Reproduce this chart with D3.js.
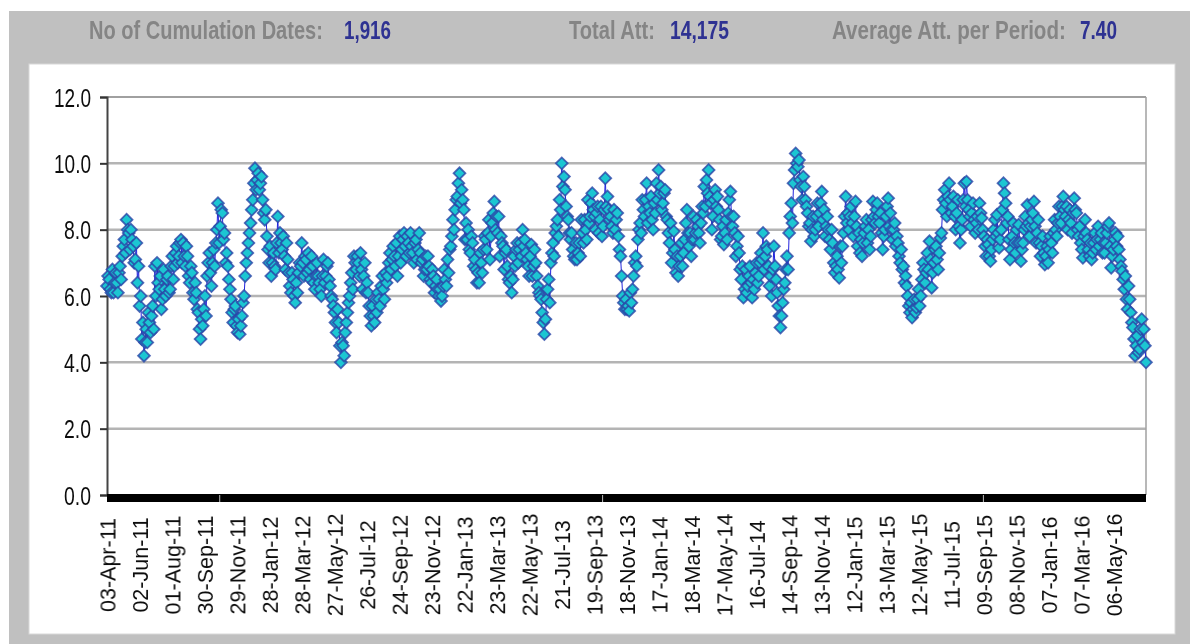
<!DOCTYPE html>
<html>
<head>
<meta charset="utf-8">
<script src="https://cdnjs.cloudflare.com/ajax/libs/d3/7.8.5/d3.min.js"></script>
<style>
    html, body { margin: 0; padding: 0; background: #fff; overflow: hidden; }
    svg { display: block; }
    text { font-family: "Liberation Sans", Arial, sans-serif; }
</style>
</head>
<body>
<svg id="chart" width="1190" height="644"></svg>
<script>
// header figures
var headerLabels = ['No of Cumulation Dates:', 'Total Att:', 'Average Att. per Period:'];
var headerValues = ['1,916', '14,175', '7.40'];

// tick labels, evenly spaced along the series
var dateLabels = ['03-Apr-11','02-Jun-11','01-Aug-11','30-Sep-11','29-Nov-11','28-Jan-12','28-Mar-12','27-May-12',
    '26-Jul-12','24-Sep-12','23-Nov-12','22-Jan-13','23-Mar-13','22-May-13','21-Jul-13','19-Sep-13','18-Nov-13',
    '17-Jan-14','18-Mar-14','17-May-14','16-Jul-14','14-Sep-14','13-Nov-14','12-Jan-15','13-Mar-15','12-May-15',
    '11-Jul-15','09-Sep-15','08-Nov-15','07-Jan-16','07-Mar-16','06-May-16'];
var yTicks = [0, 2, 4, 6, 8, 10, 12];

// values, split by year. "mid" arrays are the points sitting between them
var values2011 = [6.3,6.5,6.1,6.1,6.7,6.1,6.9,7.2,7.7,8.3,7.9,8.0,7.5,7.1,6.4,5.7,4.7,4.2,5.0,5.5,4.9,5.7,6.9,7.0,6.2,5.6,6.8,6.0,6.6,6.2,7.2,6.9,7.5,7.2,7.7,7.6,6.9,7.2,6.4,6.7,5.9,6.1,5.5,4.7,5.1,6.0,6.6,7.3,6.3,7.4,7.6,8.8,8.1,8.5,7.9,7.3,6.5,5.9,5.2,5.7,4.9,4.85,5.4,6.0,7.0,7.6,8.2,8.9,9.85];
var mid2011 = [6.6,6.2,6.8,6.4,6.4,6.7,6.5,7.5,7.3,8.0,7.4,7.7,7.0,7.6,6.9,6.0,5.2,4.6,4.6,5.2,5.4,5.0,6.0,6.4,6.6,5.9,6.2,6.5,6.1,6.9,6.5,7.3,7.0,7.6,7.0,7.2,7.5,6.6,6.9,6.1,6.4,5.6,5.0,5.3,5.6,5.4,7.0,6.7,7.0,6.9,8.0,7.6,8.6,7.7,7.0,6.9,6.2,5.5,5.6,5.1,5.3,5.1,5.8,6.6,7.3,7.9,8.6,9.4];
var values2012 = [9.2,9.7,9.4,8.9,8.3,7.8,7.0,6.6,7.3,6.8,8.4,7.9,7.4,7.2,7.6,6.7,6.1,6.5,5.8,6.1,7.0,7.6,6.6,7.1,7.3,6.5,6.9,6.2,7.0,6.4,6.0,7.1,6.6,7.0,6.3,5.9,5.5,4.9,5.2,4.0,4.5,4.9,5.5,6.0,6.7,7.2,6.8,7.0,7.3,6.2,7.0,6.4,5.7,5.1,5.4,5.9,6.1,5.7,6.6,5.9,6.4,7.0,6.8,7.5,6.9,6.6,7.8,7.4,7.9,7.2,7.6,7.9,7.3,7.6,7.1,7.9,7.0,6.6,7.2,7.2,6.5,6.8,6.1,6.5,6.0,5.85,6.3,6.5,7.1,7.4,7.8];
var mid2012 = [9.5,9.2,9.6,8.5,8.6,7.4,7.5,7.0,6.9,7.6,7.3,7.6,7.8,6.8,7.1,6.3,6.7,6.0,6.4,6.7,6.9,7.0,7.2,6.7,6.8,7.2,6.4,6.6,6.6,6.2,6.6,6.4,6.9,6.5,6.0,5.7,5.2,5.6,4.5,4.6,4.2,5.2,5.8,6.4,6.2,7.0,7.2,6.6,6.8,6.6,6.1,6.1,5.4,5.7,5.2,5.5,5.9,6.3,6.2,6.7,6.6,7.3,7.1,7.2,7.6,7.2,7.0,7.7,7.5,7.8,7.3,7.5,7.0,7.7,7.4,7.3,7.1,6.8,6.8,6.9,6.4,6.6,6.3,6.2,6.2,6.0,6.8,6.3,6.7,7.5];
var values2013 = [8.3,8.6,9.0,9.7,9.2,8.6,8.2,8.0,7.3,7.6,7.1,6.4,6.4,7.0,7.4,7.7,7.9,7.1,8.2,8.85,8.4,8.4,7.8,7.5,7.3,6.9,6.4,6.1,7.2,7.4,7.0,7.6,8.0,7.7,7.1,6.6,7.55,6.9,7.0,6.3,6.0,5.5,4.85,5.9,6.5,7.0,7.6,7.9,8.3,8.9,10.0,9.6,8.7,8.3,7.7,7.4,7.1,7.1,7.6,8.3,7.6,8.0,8.9,8.4,9.1,8.4,8.5,7.9,8.7,8.1,9.55,9.0,8.3,8.1,8.6,8.3,7.8,7.2,6.0,5.6,5.6,5.55,5.8,6.6,7.2,7.7,8.2,8.9,8.4,9.4,8.7,9.0];
var mid2013 = [8.0,8.9,9.4,8.8,8.9,7.7,7.7,7.4,7.8,6.9,6.8,6.7,7.3,6.7,7.8,7.4,8.3,7.8,8.5,8.0,7.9,7.2,7.6,6.8,7.4,6.5,6.6,6.5,6.9,7.6,7.4,7.2,7.5,7.3,6.9,7.2,6.6,7.4,6.6,6.1,5.9,5.2,5.3,6.2,5.8,7.3,7.2,8.1,7.8,8.6,9.3,9.2,8.4,7.9,7.9,7.2,7.6,7.3,7.2,7.9,8.3,7.7,8.2,8.8,8.6,8.0,8.7,8.3,7.8,8.6,8.7,8.6,8.4,7.9,8.0,8.5,7.4,6.6,5.8,5.9,5.7,6.1,6.2,7.0,6.9,8.0,7.9,8.6,8.9,8.2,8.5];
var values2014 = [8.3,8.8,9.4,9.8,9.3,8.8,9.2,8.3,7.6,7.0,7.95,6.7,6.6,7.2,6.9,7.7,8.6,7.5,7.2,8.4,7.9,8.1,7.6,8.7,9.3,9.5,9.8,8.8,8.4,9.2,9.0,8.3,7.8,7.55,8.3,8.5,9.15,8.1,7.9,7.5,7.3,6.5,5.95,6.8,6.3,6.9,5.95,6.2,7.0,6.6,7.3,7.9,7.2,7.4,6.3,6.0,7.5,6.5,5.7,5.05,5.8,6.4,7.2,7.9,8.8,9.4,10.3,9.9,9.5,8.9,9.3,8.7,8.1,7.65,8.4,8.0,8.8,8.5,9.15,8.6,8.1,8.0,7.4,7.6,6.7,7.2,6.55,7.0,7.9,9.0,8.5];
var mid2014 = [8.0,8.5,8.9,9.1,8.6,9.1,8.4,7.9,8.2,7.3,7.4,7.2,6.9,7.6,7.3,8.2,7.9,7.9,7.7,7.7,8.3,7.9,8.2,8.5,8.7,9.1,9.0,8.0,8.9,8.7,8.6,7.7,8.1,7.9,7.7,8.9,8.4,8.4,7.2,7.8,6.8,6.9,6.2,6.1,6.6,6.4,6.5,6.7,6.4,7.0,7.1,6.8,7.5,6.9,6.6,6.8,6.9,6.1,5.4,5.4,6.2,6.8,6.8,8.4,8.2,9.8,10.0,10.1,9.3,9.6,8.9,8.5,8.2,8.0,7.8,8.4,8.1,8.8,8.3,7.8,8.4,7.7,8.0,7.0,6.9,6.8,7.5,7.5,8.4,8.2];
var values2015 = [8.0,8.7,7.8,8.85,7.5,7.3,7.2,7.9,8.3,8.0,7.8,8.85,8.2,8.8,8.2,7.9,7.8,8.4,8.95,8.5,7.7,8.2,7.8,7.2,7.4,6.9,6.6,6.0,5.5,5.35,5.9,5.65,6.2,6.0,7.0,6.4,7.3,7.65,6.25,7.0,7.5,6.8,7.75,8.6,9.2,8.4,9.4,8.5,9.0,8.0,8.9,7.6,8.3,9.4,9.45,8.6,8.1,8.8,7.9,8.4,8.8,8.35,7.8,7.2,7.55,7.05,7.7,8.3,8.45,7.45,8.0,9.4,8.8,8.4,7.1,7.8,7.6,8.0,8.15,7.05,7.6,8.4,8.75,7.8,8.3,8.85,7.6,8.3,7.2,7.8,6.95,7.5];
var mid2015 = [8.4,8.2,8.4,8.1,7.9,7.7,7.6,8.1,7.6,7.4,8.3,8.4,8.6,8.4,8.5,7.4,8.0,8.7,8.1,8.0,8.0,7.5,7.6,7.0,6.8,6.4,6.3,5.7,5.8,5.6,5.5,5.9,5.7,6.5,6.8,6.7,6.8,7.1,6.7,7.4,7.1,7.3,7.9,8.9,8.8,9.0,8.9,8.7,8.4,8.5,8.1,8.0,8.9,8.7,8.9,8.4,8.5,8.3,8.2,8.0,8.5,8.0,7.5,7.7,7.2,7.4,8.0,7.8,7.9,7.7,8.6,9.1,8.2,7.7,7.4,8.2,7.3,7.6,7.6,7.4,8.0,8.1,8.2,8.1,8.5,8.1,7.9,7.6,7.5,7.3,7.2];
var values2016 = [7.0,7.8,7.3,8.3,7.8,8.7,8.2,9.0,8.4,8.0,8.6,7.9,8.95,8.5,7.8,7.6,7.15,8.3,7.7,7.2,7.1,7.6,7.4,8.1,7.7,7.3,7.3,7.9,8.2,6.85,7.4,7.9,7.8,7.1,6.75,6.2,5.9,6.3,5.5,5.05,4.2,4.8,4.4,5.3,5.0,4.0];
var mid2016 = [7.4,7.6,7.9,8.0,8.2,8.4,8.7,8.6,8.7,8.3,8.2,8.5,8.6,8.0,8.1,7.4,7.8,7.9,7.4,7.6,7.3,7.9,7.7,7.5,7.9,7.6,7.6,8.1,7.5,7.2,7.7,7.5,7.4,6.9,6.5,6.6,5.6,5.9,5.2,4.7,4.5,4.3,5.0,4.6,4.5];

// weaves one year's points with its in-between points
function weave(main, mid) {
    var out = [];
    main.forEach(function(v, i) {
        out.push(v);
        if (i < mid.length && i < main.length - 1) out.push(mid[i]);
    });
    return out;
}
var attValues = weave(values2011, mid2011).concat(weave(values2012, mid2012), weave(values2013, mid2013),
    weave(values2014, mid2014), weave(values2015, mid2015), weave(values2016, mid2016));

var svg = d3.select('#chart');
var margin = { left: 107, right: 1146, top: 97, bottom: 495 };
var lastIndex = attValues.length - 1;
var tickStep = lastIndex / dateLabels.length;

// soft blur, the source picture is a scaled screenshot
var blur = svg.append('defs').append('filter').attr('id', 'soft');
blur.append('feGaussianBlur').attr('stdDeviation', 0.55);

// squeezes a text to a given width (source text is stretched narrow)
function squeeze(sel, x, y, width, anchorRight) {
    var natural = sel.node().getComputedTextLength();
    var k = width / natural;
    sel.attr('x', 0).attr('y', 0)
        .attr('text-anchor', anchorRight ? 'end' : 'start')
        .attr('transform', `translate(${x},${y}) scale(${k},1)`);
}

// panels
svg.append('rect').attr('x', 9).attr('y', 11).attr('width', 1181).attr('height', 633).attr('fill', '#c0c0c0');
svg.append('rect').attr('x', 29).attr('y', 64).attr('width', 1146).attr('height', 570)
    .attr('fill', '#fff').attr('stroke', '#d8d8d8');

// header row
var head = svg.append('g').attr('filter', 'url(#soft)')
    .attr('font-weight', 'bold').attr('font-size', 25);
var headLabelX = [[89, 234], [569, 86], [832, 234]];
var headValueX = [[344, 47], [670, 59], [1080, 37]];
headerLabels.forEach(function(t, i) {
    head.append('text').text(t).attr('fill', '#858585')
        .call(squeeze, headLabelX[i][0], 39, headLabelX[i][1]);
    head.append('text').text(headerValues[i]).attr('fill', '#2e3192')
        .call(squeeze, headValueX[i][0], 39, headValueX[i][1]);
});

// scales
var xScale = d3.scaleLinear().domain([0, lastIndex]).range([margin.left, margin.right]);
var yScale = d3.scaleLinear().domain([0, 12]).range([margin.bottom, margin.top]);

// gridlines
svg.append('g').selectAll('line').data(yTicks.filter(d => d > 0)).enter().append('line')
    .attr('x1', margin.left).attr('x2', margin.right)
    .attr('y1', d => yScale(d)).attr('y2', d => yScale(d))
    .attr('stroke', d => d == 12 ? '#808080' : '#b4b4b4')
    .attr('stroke-width', d => d == 12 ? 1.5 : 2.5);
svg.append('line').attr('x1', margin.right).attr('x2', margin.right)
    .attr('y1', margin.top).attr('y2', margin.bottom)
    .attr('stroke', '#a0a0a0').attr('stroke-width', 1.5);

// y axis
var yAxis = svg.append('g').attr('transform', `translate(${margin.left},0)`)
    .call(d3.axisLeft(yScale).tickValues(yTicks).tickFormat(d3.format('.1f')).tickSize(7));
yAxis.select('.domain').attr('stroke', '#444').attr('stroke-width', 2);
yAxis.selectAll('.tick line').attr('stroke', '#333').attr('stroke-width', 2);
yAxis.selectAll('.tick text').attr('font-size', 26).attr('fill', '#111').attr('filter', 'url(#soft)')
    .attr('font-family', '"Liberation Sans", Arial, sans-serif')
    .each(function(d) {
        d3.select(this).attr('dy', null).call(squeeze, -16, 9, d >= 10 ? 37 : 27, true);
    });

// black band under the plot
svg.append('rect').attr('x', margin.left).attr('y', margin.bottom - 1)
    .attr('width', margin.right - margin.left).attr('height', 8).attr('fill', '#000');

// x axis labels
var xAxis = svg.append('g').attr('transform', `translate(0,${margin.bottom + 7})`)
    .call(d3.axisBottom(xScale)
        .tickValues(dateLabels.map((d, i) => i * tickStep))
        .tickFormat((d, i) => dateLabels[i])
        .tickSize(0));
xAxis.select('.domain').remove();
xAxis.selectAll('.tick text')
    .attr('font-size', 21.5).attr('fill', '#111').attr('filter', 'url(#soft)')
    .attr('font-family', '"Liberation Sans", Arial, sans-serif')
    .attr('text-anchor', 'middle').attr('dy', '0.36em')
    .attr('transform', 'translate(0,63) rotate(-90)').attr('y', 0);

// small pale notches on the black band
var notchIndex = [0.1085, 0.477, 0.8435];
svg.append('g').selectAll('line').data(notchIndex).enter().append('line')
    .attr('x1', d => xScale(d * lastIndex)).attr('x2', d => xScale(d * lastIndex))
    .attr('y1', margin.bottom).attr('y2', margin.bottom + 7)
    .attr('stroke', '#bbb').attr('stroke-width', 1);

// line and diamonds
var plot = svg.append('g').attr('filter', 'url(#soft)');
var line = d3.line().x((d, i) => xScale(i)).y(d => yScale(d));
plot.append('path').datum(attValues).attr('d', line)
    .attr('fill', 'none').attr('stroke', '#2222dd').attr('stroke-width', 1);

var diamond = d3.symbol().type(d3.symbolSquare).size(70);
plot.selectAll('.pt').data(attValues).enter().append('path')
    .attr('class', 'pt')
    .attr('d', diamond)
    .attr('transform', (d, i) => `translate(${xScale(i)},${yScale(d)}) rotate(45)`)
    .attr('fill', '#1cc6d2')
    .attr('stroke', '#2b46a8')
    .attr('stroke-width', 1.8)
    .attr('stroke-opacity', 0.8);
</script>
</body>
</html>
